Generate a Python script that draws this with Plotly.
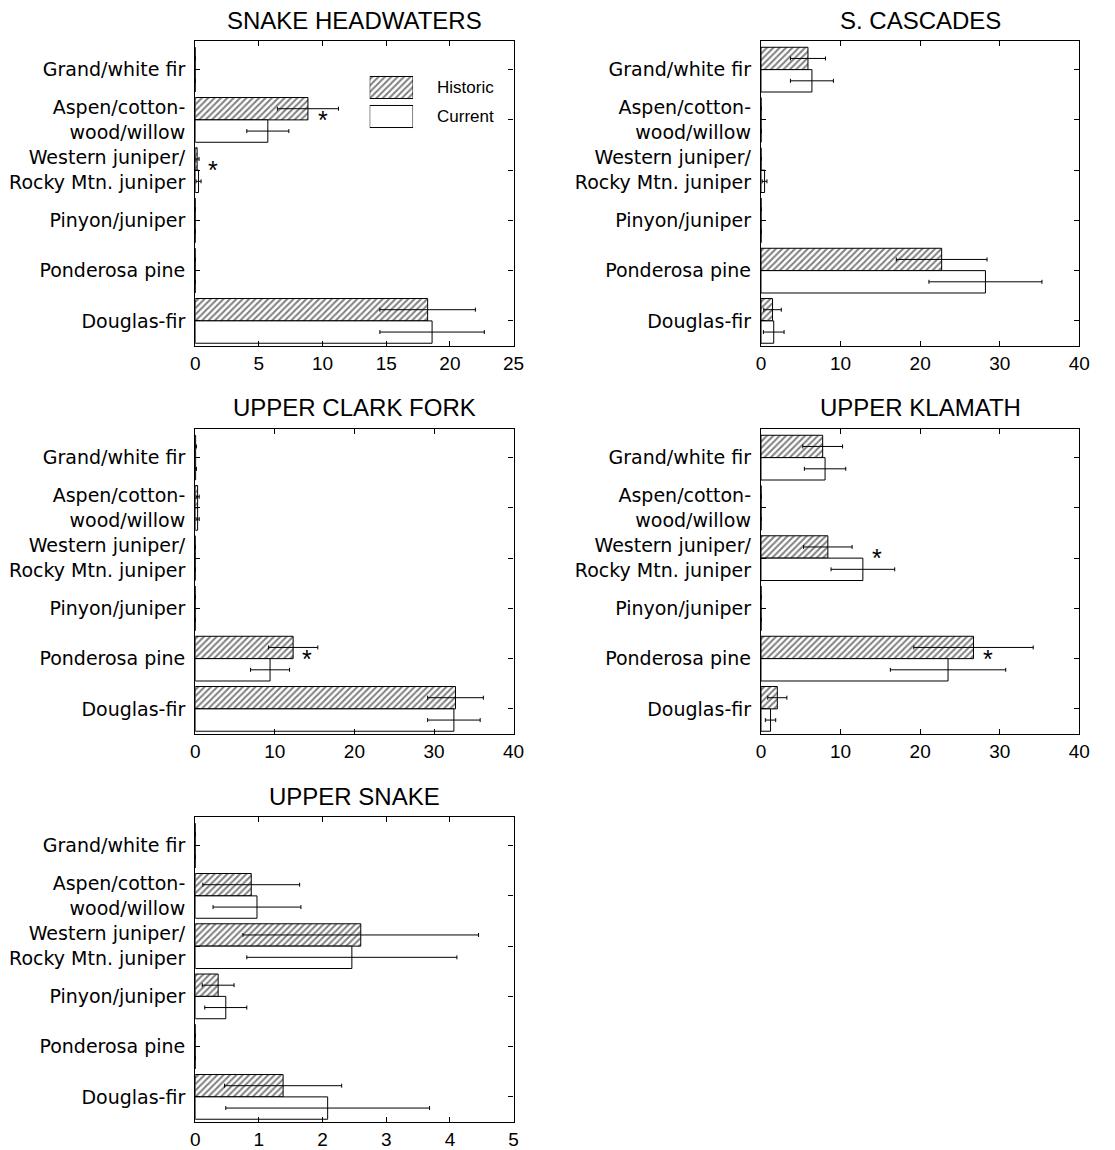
import plotly.graph_objects as go

categories = ["Grand/white fir", "Aspen/cotton-<br>wood/willow",
              "Western juniper/<br>Rocky Mtn. juniper", "Pinyon/juniper",
              "Ponderosa pine", "Douglas-fir"]

titles = ["SNAKE HEADWATERS", "S. CASCADES", "UPPER CLARK FORK",
          "UPPER KLAMATH", "UPPER SNAKE"]

snake_hw_hist = [0, 8.85, 0.15, 0, 0, 18.25]
snake_hw_hist_err = [0, 2.4, 0.15, 0, 0, 3.75]
snake_hw_curr = [0, 5.7, 0.26, 0, 0, 18.6]
snake_hw_curr_err = [0, 1.65, 0.2, 0, 0, 4.1]

s_casc_hist = [5.9, 0, 0, 0, 22.7, 1.45]
s_casc_hist_err = [2.2, 0, 0, 0, 5.7, 1.1]
s_casc_curr = [6.4, 0, 0.45, 0, 28.2, 1.6]
s_casc_curr_err = [2.7, 0, 0.3, 0, 7.1, 1.3]

clark_hist = [0.05, 0.3, 0, 0, 12.3, 32.7]
clark_hist_err = [0.1, 0.2, 0, 0, 3.1, 3.5]
clark_curr = [0.05, 0.3, 0, 0, 9.4, 32.5]
clark_curr_err = [0.1, 0.2, 0, 0, 2.45, 3.3]

klamath_hist = [7.75, 0, 8.4, 0, 26.7, 2.05]
klamath_hist_err = [2.5, 0, 3.05, 0, 7.5, 1.2]
klamath_curr = [8.05, 0, 12.8, 0, 23.5, 1.2]
klamath_curr_err = [2.6, 0, 4.0, 0, 7.25, 0.65]

usnake_hist = [0, 0.88, 2.6, 0.36, 0, 1.38]
usnake_hist_err = [0, 0.76, 1.85, 0.25, 0, 0.92]
usnake_curr = [0, 0.97, 2.46, 0.48, 0, 2.08]
usnake_curr_err = [0, 0.69, 1.65, 0.33, 0, 1.6]

x_max = [25, 40, 40, 40, 5]
x_dtick = [5, 10, 10, 10, 1]

# significance asterisks: (panel index, category index, x value)
asterisks = [(0, 1, 10.0), (0, 2, 1.4), (2, 4, 14.1), (3, 2, 14.6), (3, 4, 28.5)]

panels = [
    (snake_hw_hist, snake_hw_hist_err, snake_hw_curr, snake_hw_curr_err),
    (s_casc_hist, s_casc_hist_err, s_casc_curr, s_casc_curr_err),
    (clark_hist, clark_hist_err, clark_curr, clark_curr_err),
    (klamath_hist, klamath_hist_err, klamath_curr, klamath_curr_err),
    (usnake_hist, usnake_hist_err, usnake_curr, usnake_curr_err),
]

W, H = 1115, 1150
col_px = [(193, 516), (767, 1090)]
row_px = [(41, 346), (429, 734), (817, 1122)]

FONT = "Liberation Sans, Arial, sans-serif"
LABEL_FONT = "DejaVu Sans, sans-serif"
HATCH = dict(shape="/", fgcolor="black", bgcolor="white", size=4.5, solidity=0.45)

fig = go.Figure()
annotations = []

for i, (hv, he, cv, ce) in enumerate(panels):
    r, c = divmod(i, 2)
    n = "" if i == 0 else str(i + 1)
    xa, ya = "x" + n, "y" + n
    x0, x1 = col_px[c]
    y0, y1 = row_px[r]
    fig.add_trace(go.Bar(
        y=categories, x=hv, orientation="h", xaxis=xa, yaxis=ya,
        name="Historic", showlegend=False,
        marker=dict(color="white", line=dict(color="black", width=1),
                    pattern=HATCH),
        error_x=dict(type="data", array=he, color="black", thickness=1, width=2),
    ))
    fig.add_trace(go.Bar(
        y=categories, x=cv, orientation="h", xaxis=xa, yaxis=ya,
        name="Current", showlegend=False,
        marker=dict(color="white", line=dict(color="black", width=1)),
        error_x=dict(type="data", array=ce, color="black", thickness=1, width=2),
    ))
    axis_common = dict(showline=True, linecolor="black", linewidth=1.3,
                       mirror="ticks", ticks="inside", ticklen=5,
                       tickcolor="black", showgrid=False, zeroline=False)
    fig.layout["xaxis" + n] = dict(
        axis_common, domain=[x0 / W, x1 / W], anchor=ya,
        range=[0, x_max[i]], dtick=x_dtick[i], tick0=0,
        tickfont=dict(family=FONT, size=19, color="black"))
    fig.layout["yaxis" + n] = dict(
        axis_common, domain=[1 - y1 / H, 1 - y0 / H], anchor=xa,
        type="category", categoryorder="array", categoryarray=categories,
        range=[5.5, -0.57], ticklabelstandoff=5,
        tickfont=dict(family=LABEL_FONT, size=19, color="black"))
    annotations.append(dict(
        text=titles[i], xref="paper", yref="paper",
        x=(x0 + x1) / 2 / W, y=1 - (y0 - 21) / H, xanchor="center",
        yanchor="middle", showarrow=False,
        font=dict(family=FONT, size=24, color="black")))

for (p, ci, xv) in asterisks:
    n = "" if p == 0 else str(p + 1)
    annotations.append(dict(
        text="*", xref="x" + n, yref="y" + n, x=xv, y=categories[ci],
        xanchor="center", yanchor="middle", showarrow=False,
        font=dict(family=FONT, size=25, color="black")))

# legend keys (Snake Headwaters panel)
legend_labels = ["Historic", "Current"]
fig.add_trace(go.Bar(
    y=[legend_labels[0]], x=[1], orientation="h", xaxis="x6", yaxis="y6",
    showlegend=False, width=0.76, offset=-0.38, hoverinfo="skip",
    marker=dict(color="white", line=dict(color="black", width=1), pattern=HATCH)))
fig.add_trace(go.Bar(
    y=[legend_labels[1]], x=[1], orientation="h", xaxis="x6", yaxis="y6",
    showlegend=False, width=0.76, offset=-0.38, hoverinfo="skip",
    marker=dict(color="white", line=dict(color="black", width=1))))
fig.layout["xaxis6"] = dict(domain=[370 / W, 414 / W], anchor="y6", range=[0, 1],
                            visible=False, fixedrange=True)
fig.layout["yaxis6"] = dict(domain=[1 - 131 / H, 1 - 73 / H], anchor="x6",
                            type="category", categoryorder="array",
                            categoryarray=legend_labels, range=[1.5, -0.5],
                            visible=False, fixedrange=True)
for k, lab in enumerate(legend_labels):
    annotations.append(dict(
        text=lab, xref="paper", yref="y6", x=436 / W, y=lab,
        xanchor="left", yanchor="middle", showarrow=False,
        font=dict(family=FONT, size=17, color="black")))

fig.update_layout(
    width=W, height=H, margin=dict(l=0, r=0, t=0, b=0),
    barmode="group", bargap=0.11, bargroupgap=0,
    plot_bgcolor="white", paper_bgcolor="white",
    annotations=annotations, showlegend=False,
    font=dict(family=FONT, color="black"),
)

fig.write_html("out.html", config={"displayModeBar": False},
               post_script="document.body.style.margin='0';document.body.style.padding='0';")
